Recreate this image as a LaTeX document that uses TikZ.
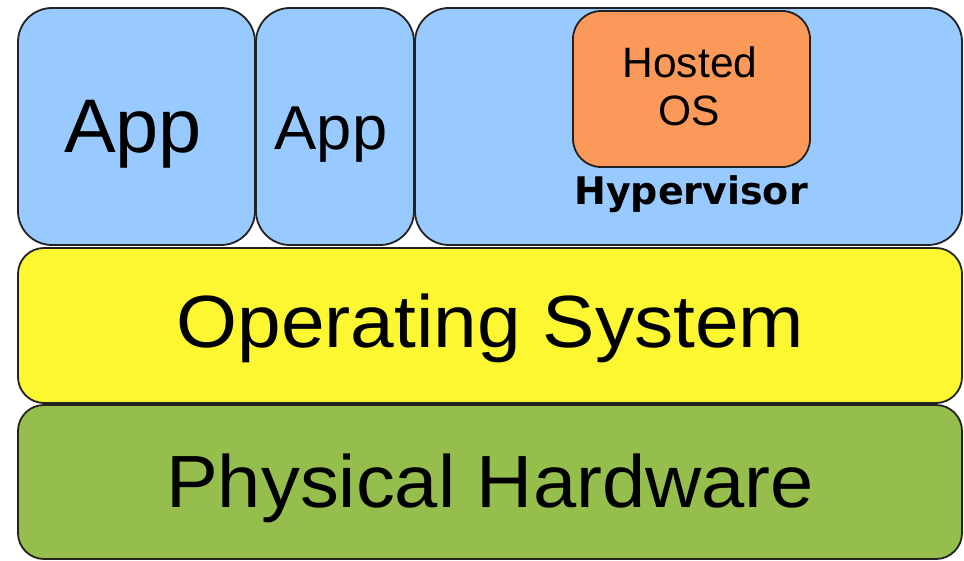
\documentclass[tikz,border=0pt]{standalone}
\usepackage{fontspec}
\setmainfont{Liberation Sans}
\newfontfamily\hvfont{DejaVu Sans}
\definecolor{appblue}{RGB}{153,202,255}
\definecolor{osyellow}{RGB}{252,247,48}
\definecolor{hwgreen}{RGB}{149,190,76}
\definecolor{guestorange}{RGB}{250,153,90}
\definecolor{edge}{RGB}{34,34,34}
\tikzset{
  layer/.style={draw=edge, line width=1.8pt, inner sep=0pt, outer sep=0pt,
    rounded corners=#1},
  layer/.default=34pt,
  caption/.style={anchor=base, inner sep=0pt, text=black},
}
\begin{document}
\begin{tikzpicture}[x=1pt, y=-1pt]
\useasboundingbox[fill=white] (0,0) rectangle (964,561);

% top row: two applications and the hypervisor
\node[layer, fill=appblue, minimum width=237pt, minimum height=237pt]
  (app1) at (136.5,126.5) {};
\node[layer, fill=appblue, minimum width=158pt, minimum height=237pt]
  (app2) at (335,126.5) {};
\node[layer, fill=appblue, minimum width=547pt, minimum height=237pt]
  (hyp) at (688.5,126.5) {};
\node[layer=28pt, fill=guestorange, minimum width=237pt, minimum height=156pt]
  (guest) at (691.5,89) {};

% lower layers
\node[layer=26pt, fill=osyellow, minimum width=944pt, minimum height=155pt]
  (os) at (490,325.5) {};
\node[layer=26pt, fill=hwgreen, minimum width=944pt, minimum height=154pt]
  (hw) at (490,482) {};

% texts
\node[caption, font=\fontsize{76}{80}\selectfont, xscale=1.02] (app1t) at (133,153) {App};
\node[caption, font=\fontsize{62}{66}\selectfont, xscale=1.02] (app2t) at (331,150) {App};
\node[caption, font=\fontsize{42.5}{46}\selectfont] (guestt1) at (690,78) {Hosted};
\node[caption, font=\fontsize{42.5}{46}\selectfont] (guestt2) at (689,126) {OS};
\node[caption, font=\hvfont\bfseries\fontsize{38}{42}\selectfont] (hypt) at (691,205) {Hypervisor};
\node[caption, font=\fontsize{74}{80}\selectfont, xscale=1.06] (ost) at (490.5,348) {Operating System};
\node[caption, font=\fontsize{74}{80}\selectfont, xscale=1.05] (hwt) at (490,507) {Physical Hardware};
\end{tikzpicture}
\end{document}
